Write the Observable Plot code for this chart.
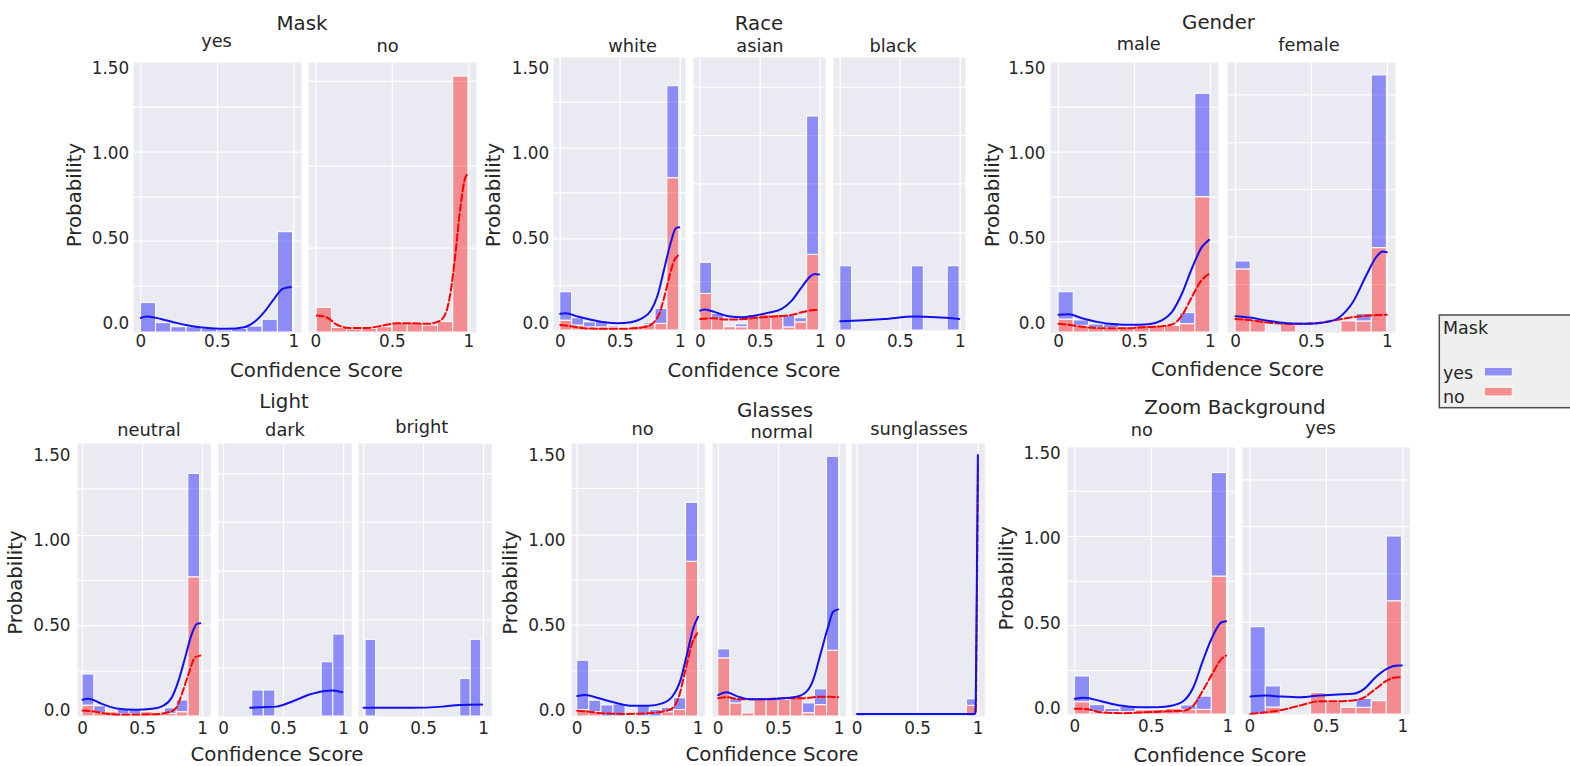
<!DOCTYPE html>
<html><head><meta charset="utf-8">
<script src="https://cdn.jsdelivr.net/npm/d3@7"></script>
<script src="https://cdn.jsdelivr.net/npm/@observablehq/plot@0.6"></script>
<style>
html,body{margin:0;padding:0;background:#fff;}
#root{position:relative;width:1570px;height:766px;overflow:hidden;font-family:"DejaVu Sans",sans-serif;color:#262626;background:#fff;}
</style></head><body><div id="root"></div>
<script>
// ---------------- categories & labels ----------------
const groupTitles = ["Mask", "Race", "Gender", "Light", "Glasses", "Zoom Background"];
const maskLevels = ["yes", "no"];
const raceLevels = ["white", "asian", "black"];
const genderLevels = ["male", "female"];
const lightLevels = ["neutral", "dark", "bright"];
const glassesLevels = ["no", "normal", "sunglasses"];
const zoomLevels = ["no", "yes"];
const legendTitle = "Mask";
const legendLevels = ["yes", "no"];
const xAxisLabel = "Confidence Score";
const yAxisLabel = "Probability";
const xTickValues = [0, 0.5, 1];
const xTickLabels = ["0", "0.5", "1"];
const yTickValues = [0, 0.5, 1, 1.5];
const yTickLabels = ["0.0", "0.50", "1.00", "1.50"];

// ---------------- data (bar tops: red = "no", blue = "yes", stacked) ----------------
// Mask = yes
const mYesBins = [0, 0.995];
const mYesYes = [0.123, 0.005, -0.019, -0.019, -0.028, -0.038, -0.028, -0.015, 0.025, 0.54];
const mYesNo = null;
const mYesKdeYes = [[0,0.036],[0.044,0.044],[0.131,0.03],[0.24,0.005],[0.349,-0.015],[0.458,-0.025],[0.566,-0.028],[0.675,-0.019],[0.74,0.011],[0.806,0.07],[0.871,0.148],[0.926,0.207],[0.98,0.217]];
const mYesKdeNo = null;
const mYesGrid = [0.222, 0.487, 0.746, 1.011, 1.275];
// Mask = no
const mNoBins = [0.006, 0.997];
const mNoYes = null;
const mNoNo = [0.095, -0.023, -0.032, -0.029, -0.019, 0.005, 0.005, -0.009, 0.011, 1.455];
const mNoKdeYes = null;
const mNoKdeNo = [[0.006,0.05],[0.07,0.04],[0.135,-0.003],[0.22,-0.023],[0.33,-0.023],[0.44,-0.009],[0.527,0.005],[0.637,0.005],[0.725,0.001],[0.791,0.011],[0.835,0.04],[0.879,0.177],[0.912,0.413],[0.945,0.687],[0.978,0.864],[0.997,0.883]];
const mNoGrid = [0.446, 0.928, 1.427];
// Race = white
const rWhiteBins = [0, 0.992];
const rWhiteYes = [0.187, 0.034, 0.01, 0.018, -0.01, -0.02, -0.025, 0.005, 0.089, 1.399];
const rWhiteNo = [0.02, -0.009, -0.02, -0.02, -0.02, -0.025, -0.015, -0.005, 0.001, 0.858];
const rWhiteKdeYes = [[0,0.06],[0.047,0.064],[0.145,0.044],[0.256,0.025],[0.367,0.011],[0.478,0.005],[0.589,0.011],[0.673,0.03],[0.756,0.079],[0.811,0.168],[0.867,0.325],[0.922,0.481],[0.964,0.564],[0.992,0.569]];
const rWhiteKdeNo = [[0,-0.005],[0.089,-0.013],[0.2,-0.025],[0.339,-0.028],[0.478,-0.028],[0.617,-0.025],[0.728,-0.013],[0.783,0.011],[0.825,0.06],[0.867,0.158],[0.908,0.275],[0.95,0.374],[0.992,0.407]];
const rWhiteGrid = [0.226, 0.501, 0.772, 1.034, 1.305];
// Race = asian
const rAsianBins = [0, 0.99];
const rAsianYes = [0.36, 0.06, null, -0.002, null, null, null, 0.05, 0.034, 1.221];
const rAsianNo = [0.177, 0.03, -0.019, -0.019, 0.054, 0.054, 0.054, -0.02, 0.01, 0.407];
const rAsianKdeYes = [[0,0.079],[0.04,0.085],[0.124,0.07],[0.235,0.046],[0.346,0.04],[0.457,0.05],[0.568,0.066],[0.679,0.089],[0.763,0.138],[0.846,0.217],[0.915,0.279],[0.957,0.295],[0.99,0.291]];
const rAsianKdeNo = [[0,0.03],[0.096,0.034],[0.235,0.026],[0.374,0.03],[0.513,0.04],[0.651,0.046],[0.763,0.054],[0.874,0.074],[0.957,0.083],[0.99,0.081]];
const rAsianGrid = [0.25, 0.536, 0.825, 1.109, 1.393];
// Race = black
const rBlackBins = [0, 0.995];
const rBlackYes = [0.34, null, null, null, null, null, 0.34, null, null, 0.34];
const rBlackNo = null;
const rBlackKdeYes = [[0,0.017],[0.2,0.023],[0.367,0.03],[0.617,0.044],[0.8,0.04],[0.992,0.03]];
const rBlackKdeNo = null;
const rBlackGrid = [0.25, 0.536, 0.825, 1.109, 1.393];
// Gender = male
const gMaleBins = [0, 1.0];
const gMaleYes = [0.187, 0.021, -0.003, 0.007, -0.01, null, null, -0.005, 0.064, 1.354];
const gMaleNo = [0.026, -0.011, -0.025, -0.025, -0.019, -0.01, -0.01, -0.01, -0.001, 0.746];
const gMaleKdeYes = [[0,0.054],[0.066,0.058],[0.154,0.034],[0.263,0.011],[0.373,-0.001],[0.483,-0.005],[0.592,-0.001],[0.68,0.021],[0.746,0.07],[0.812,0.178],[0.877,0.325],[0.943,0.452],[0.991,0.495]];
const gMaleKdeNo = [[0,0.001],[0.066,-0.005],[0.176,-0.019],[0.307,-0.025],[0.439,-0.025],[0.57,-0.019],[0.68,-0.013],[0.757,0.001],[0.812,0.05],[0.877,0.158],[0.932,0.246],[0.991,0.295]];
const gMaleGrid = [0.222, 0.485, 0.746, 1.011, 1.275];
// Gender = female
const gFemaleBins = [0, 0.996];
const gFemaleYes = [0.368, null, null, null, null, null, null, null, 0.06, 1.462];
const gFemaleNo = [0.321, 0.021, null, 0.005, null, null, null, 0.015, 0.015, 0.446];
const gFemaleKdeYes = [[0,0.046],[0.092,0.038],[0.2,0.021],[0.333,0.005],[0.487,0.001],[0.597,0.011],[0.684,0.04],[0.772,0.128],[0.86,0.285],[0.926,0.393],[0.97,0.426],[0.996,0.422]];
const gFemaleKdeNo = [[0,0.03],[0.114,0.021],[0.246,0.005],[0.399,0.001],[0.553,0.007],[0.662,0.023],[0.772,0.04],[0.882,0.05],[0.996,0.054]];
const gFemaleGrid = [0.231, 0.511, 0.791, 1.066, 1.348];
// Light = neutral
const lNeutralBins = [0, 0.98];
const lNeutralYes = [0.215, 0.028, null, 0.007, 0.007, null, null, 0.016, 0.062, 1.395];
const lNeutralNo = [0.032, -0.012, -0.007, -0.02, -0.02, -0.007, -0.017, -0.017, -0.007, 0.787];
const lNeutralKdeYes = [[0,0.066],[0.05,0.072],[0.161,0.042],[0.3,0.013],[0.439,0.007],[0.578,0.013],[0.675,0.032],[0.745,0.081],[0.8,0.179],[0.856,0.317],[0.911,0.454],[0.953,0.513],[0.981,0.517]];
const lNeutralKdeNo = [[0,0.003],[0.078,-0.001],[0.217,-0.017],[0.356,-0.02],[0.495,-0.02],[0.634,-0.017],[0.745,-0.001],[0.786,0.023],[0.828,0.101],[0.884,0.219],[0.939,0.317],[0.981,0.326]];
const lNeutralGrid = [0.234, 0.503, 0.768, 1.032, 1.307];
// Light = dark
const lDarkBins = [0.239, 1.011];
const lDarkYes = [0.121, 0.121, null, null, null, null, 0.287, 0.45];
const lDarkNo = null;
const lDarkKdeYes = [[0.222,0.019],[0.328,0.023],[0.439,0.026],[0.578,0.058],[0.717,0.097],[0.828,0.117],[0.911,0.121],[0.989,0.111]];
const lDarkKdeNo = null;
const lDarkGrid = [0.252, 0.537, 0.823, 1.111, 1.395];
// Light = bright
const lBrightBins = [0.017, 0.981];
const lBrightYes = [0.419, null, null, null, null, null, null, null, null, 0.189, 0.419];
const lBrightNo = null;
const lBrightKdeYes = [[0,0.019],[0.383,0.019],[0.661,0.026],[0.8,0.036],[0.989,0.038]];
const lBrightKdeNo = null;
const lBrightGrid = [0.252, 0.537, 0.823, 1.111, 1.395];
// Glasses = no
const gsNoBins = [0, 1.0];
const gsNoYes = [0.293, 0.058, 0.03, 0.036, null, 0.026, 0.003, 0.016, 0.072, 1.222];
const gsNoNo = [0.003, -0.01, null, null, null, null, null, -0.01, 0.003, 0.875];
const gsNoKdeYes = [[0,0.085],[0.068,0.091],[0.179,0.072],[0.316,0.046],[0.454,0.028],[0.592,0.028],[0.702,0.042],[0.785,0.081],[0.854,0.179],[0.909,0.336],[0.964,0.493],[1.0,0.552]];
const gsNoKdeNo = [[0,-0.001],[0.096,-0.007],[0.234,-0.017],[0.399,-0.02],[0.565,-0.017],[0.702,-0.007],[0.785,0.013],[0.84,0.081],[0.895,0.238],[0.95,0.395],[0.991,0.454]];
const gsNoGrid = [0.234, 0.503, 0.768, 1.032, 1.307];
// Glasses = normal
const gsNormalBins = [0, 1.0];
const gsNormalYes = [0.36, 0.072, null, null, null, null, null, 0.042, 0.125, 1.493];
const gsNormalNo = [0.307, 0.042, -0.017, 0.062, 0.062, 0.062, 0.085, -0.016, 0.032, 0.352];
const gsNormalKdeYes = [[0,0.091],[0.069,0.107],[0.152,0.085],[0.262,0.066],[0.4,0.066],[0.537,0.072],[0.647,0.081],[0.73,0.111],[0.785,0.179],[0.84,0.317],[0.909,0.493],[0.95,0.581],[0.992,0.595]];
const gsNormalKdeNo = [[0,0.072],[0.069,0.078],[0.179,0.066],[0.317,0.066],[0.455,0.07],[0.592,0.072],[0.702,0.072],[0.84,0.081],[0.923,0.081],[0.992,0.078]];
const gsNormalGrid = [];
// Glasses = sunglasses
const gsSunBins = [0, 0.983];
const gsSunYes = [-0.02, null, null, null, null, null, null, null, null, null, null, null, 0.066];
const gsSunNo = [null, null, null, null, null, null, null, null, null, null, null, null, 0.028];
const gsSunKdeYes = [[0,-0.021],[0.5,-0.021],[0.97,-0.021],[0.978,-0.01],[0.985,0.4],[0.992,1.0],[0.998,1.503]];
const gsSunKdeNo = [[0,-0.021],[0.5,-0.021],[0.97,-0.021],[0.98,0.0],[0.988,0.5],[0.994,1.0],[0.999,1.45]];
const gsSunGrid = [];
// Zoom Background = no
const zNoBins = [0, 0.994];
const zNoYes = [0.19, 0.022, 0.0, 0.012, null, 0.0, 0.0, 0.02, 0.072, 1.383];
const zNoNo = [0.039, -0.02, -0.02, -0.02, -0.008, -0.006, 0.0, -0.006, -0.006, 0.776];
const zNoKdeYes = [[0,0.059],[0.062,0.065],[0.172,0.045],[0.295,0.02],[0.418,0.01],[0.541,0.01],[0.639,0.02],[0.714,0.049],[0.775,0.127],[0.837,0.283],[0.898,0.42],[0.959,0.508],[0.989,0.514]];
const zNoKdeNo = [[0,0.0],[0.062,0.0],[0.172,-0.02],[0.32,-0.025],[0.467,-0.02],[0.615,-0.014],[0.714,-0.01],[0.775,0.02],[0.837,0.108],[0.898,0.205],[0.959,0.293],[0.989,0.313]];
const zNoGrid = [0.225, 0.489, 0.748, 1.011, 1.276];
// Zoom Background = yes
const zYesBins = [0.005, 0.994];
const zYesYes = [0.479, 0.132, null, null, null, null, null, 0.059, null, 1.011];
const zYesNo = [null, 0.008, null, null, 0.093, 0.039, 0.006, 0.006, 0.045, 0.631];
const zYesKdeYes = [[0.005,0.072],[0.109,0.078],[0.207,0.072],[0.33,0.068],[0.453,0.078],[0.576,0.084],[0.674,0.088],[0.748,0.117],[0.822,0.186],[0.895,0.235],[0.969,0.254],[0.994,0.254]];
const zYesKdeNo = [[0.005,-0.029],[0.109,-0.02],[0.207,-0.006],[0.33,0.02],[0.453,0.045],[0.576,0.045],[0.674,0.049],[0.748,0.068],[0.822,0.117],[0.895,0.166],[0.969,0.186],[0.994,0.186]];
const zYesGrid = [0.229, 0.508, 0.792, 1.069, 1.343];

// table built from the arrays above
const DATA = {
  mYes: {bins: mYesBins, yes: mYesYes, no: mYesNo, kdeYes: mYesKdeYes, kdeNo: mYesKdeNo, grid: mYesGrid},
  mNo: {bins: mNoBins, yes: mNoYes, no: mNoNo, kdeYes: mNoKdeYes, kdeNo: mNoKdeNo, grid: mNoGrid},
  rWhite: {bins: rWhiteBins, yes: rWhiteYes, no: rWhiteNo, kdeYes: rWhiteKdeYes, kdeNo: rWhiteKdeNo, grid: rWhiteGrid},
  rAsian: {bins: rAsianBins, yes: rAsianYes, no: rAsianNo, kdeYes: rAsianKdeYes, kdeNo: rAsianKdeNo, grid: rAsianGrid},
  rBlack: {bins: rBlackBins, yes: rBlackYes, no: rBlackNo, kdeYes: rBlackKdeYes, kdeNo: rBlackKdeNo, grid: rBlackGrid},
  gMale: {bins: gMaleBins, yes: gMaleYes, no: gMaleNo, kdeYes: gMaleKdeYes, kdeNo: gMaleKdeNo, grid: gMaleGrid},
  gFemale: {bins: gFemaleBins, yes: gFemaleYes, no: gFemaleNo, kdeYes: gFemaleKdeYes, kdeNo: gFemaleKdeNo, grid: gFemaleGrid},
  lNeutral: {bins: lNeutralBins, yes: lNeutralYes, no: lNeutralNo, kdeYes: lNeutralKdeYes, kdeNo: lNeutralKdeNo, grid: lNeutralGrid},
  lDark: {bins: lDarkBins, yes: lDarkYes, no: lDarkNo, kdeYes: lDarkKdeYes, kdeNo: lDarkKdeNo, grid: lDarkGrid},
  lBright: {bins: lBrightBins, yes: lBrightYes, no: lBrightNo, kdeYes: lBrightKdeYes, kdeNo: lBrightKdeNo, grid: lBrightGrid},
  gsNo: {bins: gsNoBins, yes: gsNoYes, no: gsNoNo, kdeYes: gsNoKdeYes, kdeNo: gsNoKdeNo, grid: gsNoGrid},
  gsNormal: {bins: gsNormalBins, yes: gsNormalYes, no: gsNormalNo, kdeYes: gsNormalKdeYes, kdeNo: gsNormalKdeNo, grid: gsNormalGrid},
  gsSun: {bins: gsSunBins, yes: gsSunYes, no: gsSunNo, kdeYes: gsSunKdeYes, kdeNo: gsSunKdeNo, grid: gsSunGrid},
  zNo: {bins: zNoBins, yes: zNoYes, no: zNoNo, kdeYes: zNoKdeYes, kdeNo: zNoKdeNo, grid: zNoGrid},
  zYes: {bins: zYesBins, yes: zYesYes, no: zYesNo, kdeYes: zYesKdeYes, kdeNo: zYesKdeNo, grid: zYesGrid}
};

// ---------------- layout ----------------
const LAYOUT = [
  {title: groupTitles[0], levels: maskLevels, keys: ["mYes","mNo"], tx: 302, ty: 30, ylab: [80.5,195], xlab: [316.5,376.5],
   top: 62, bottom: 332, ydom: [-0.05,1.538], xdom: [-0.048,1.05], xPad: 3, yPad: 4.4,
   lefts: [133, 308.3], width: 168, lab: [[216.5,46.5],[387.5,51.5]]},
  {title: groupTitles[1], levels: raceLevels, keys: ["rWhite","rAsian","rBlack"], tx: 759, ty: 30, ylab: [500.3,195], xlab: [754,376.5],
   top: 57, bottom: 330, ydom: [-0.038,1.568], xdom: [-0.056,1.044], xPad: 5, yPad: 4.3,
   lefts: [552.6, 693.3, 832.7], width: 132, lab: [[632.5,51.5],[760,51.5],[893,51.5]]},
  {title: groupTitles[2], levels: genderLevels, keys: ["gMale","gFemale"], tx: 1218.5, ty: 28.5, ylab: [998.6,195], xlab: [1237.5,375.5],
   top: 62, bottom: 332, ydom: [-0.05,1.538], xdom: [-0.053,1.053], xPad: 3, yPad: 5,
   lefts: [1050, 1226.7], width: 168, lab: [[1138.7,50],[1309,51]]},
  {title: groupTitles[3], levels: lightLevels, keys: ["lNeutral","lDark","lBright"], tx: 284, ty: 407.5, ylab: [22,582.5], xlab: [277,761],
   top: 443, bottom: 716, ydom: [-0.032,1.574], xdom: [-0.042,1.069], xPad: 5.7, yPad: 7,
   lefts: [76.7, 217.7, 357.7], width: 133.3, lab: [[149,436],[285,436],[421.7,432.5]]},
  {title: groupTitles[4], levels: glassesLevels, keys: ["gsNo","gsNormal","gsSun"], tx: 775, ty: 416.5, ylab: [517,582.5], xlab: [772,761],
   top: 443, bottom: 716, ydom: [-0.035,1.571], xdom: [-0.047,1.055], xPad: 6, yPad: 6,
   lefts: [571, 711.5, 851], width: 133.3, lab: [[642.5,435],[781.7,438],[919,434.5]]},
  {title: groupTitles[5], levels: zoomLevels, keys: ["zNo","zYes"], tx: 1235, ty: 414, ylab: [1013,578.3], xlab: [1220,761.5],
   top: 447, bottom: 714, ydom: [-0.033,1.533], xdom: [-0.048,1.047], xPad: 6, yPad: 6.7,
   lefts: [1066.7, 1242], width: 167.5, lab: [[1141.8,436],[1320.5,433.5]]}
];

const BG = "#eaeaf2";
const TEXT = "#262626";
const root = document.getElementById("root");

function stackBars(bins, yes, no, base) {
  const n = (yes || no).length;
  const w = (bins[1] - bins[0]) / n;
  const red = [], blue = [];
  for (let i = 0; i < n; i++) {
    const x1 = bins[0] + i * w, x2 = x1 + w;
    const r = no ? no[i] : null, b = yes ? yes[i] : null;
    const hasR = r != null && r > base;
    if (hasR) red.push({x1, x2, y1: base, y2: r});
    const b0 = hasR ? r : base;
    if (b != null && b > b0) blue.push({x1, x2, y1: b0, y2: b});
  }
  return {red, blue};
}

function makePanel(g, key, left, first) {
  const d = DATA[key];
  const base = g.ydom[0];
  const {red, blue} = stackBars(d.bins, d.yes, d.no, base);
  const ml = first ? 60 : 4, mr = 14, mt = 4, mb = 32;
  const h = g.bottom - g.top;
  const marks = [
    Plot.frame({fill: BG, stroke: "none"}),
    Plot.ruleY(d.grid, {stroke: "white", strokeWidth: 1.2}),
    Plot.ruleX(xTickValues, {stroke: "white", strokeWidth: 1.2}),
    Plot.rect(red, {x1: "x1", x2: "x2", y1: "y1", y2: "y2", fill: "red", fillOpacity: 0.4, stroke: "white", strokeWidth: 1}),
    Plot.rect(blue, {x1: "x1", x2: "x2", y1: "y1", y2: "y2", fill: "blue", fillOpacity: 0.4, stroke: "white", strokeWidth: 1})
  ];
  if (d.kdeNo) marks.push(Plot.line(d.kdeNo, {x: p => p[0], y: p => p[1], stroke: "red", strokeWidth: 2, strokeDasharray: "7,3", curve: "monotone-x"}));
  if (d.kdeYes) marks.push(Plot.line(d.kdeYes, {x: p => p[0], y: p => p[1], stroke: "#1010f5", strokeWidth: 2, curve: "monotone-x"}));
  marks.push(Plot.axisX(xTickValues, {tickSize: 0, tickPadding: g.xPad, label: null,
    tickFormat: v => xTickLabels[xTickValues.indexOf(v)]}));
  if (first) marks.push(Plot.axisY(yTickValues, {tickSize: 0, tickPadding: g.yPad, label: null,
    tickFormat: v => yTickLabels[yTickValues.indexOf(v)]}));
  const svg = Plot.plot({
    width: g.width + ml + mr, height: h + mt + mb,
    marginLeft: ml, marginRight: mr, marginTop: mt, marginBottom: mb,
    x: {domain: g.xdom, axis: null},
    y: {domain: g.ydom, axis: null},
    style: {fontFamily: "DejaVu Sans", fontSize: "16.8px", color: TEXT, background: "transparent", overflow: "visible"},
    marks
  });
  svg.style.position = "absolute";
  svg.style.left = (left - ml) + "px";
  svg.style.top = (g.top - mt) + "px";
  root.appendChild(svg);
}

LAYOUT.forEach(g => g.keys.forEach((k, i) => makePanel(g, k, g.lefts[i], i === 0)));

// ---------------- text overlay & legend ----------------
const ov = d3.select(root).append("svg")
  .attr("width", 1570).attr("height", 766)
  .style("position", "absolute").style("left", "0px").style("top", "0px")
  .style("pointer-events", "none")
  .attr("font-family", "DejaVu Sans").attr("fill", TEXT);

LAYOUT.forEach(g => {
  ov.append("text").attr("x", g.tx).attr("y", g.ty).attr("text-anchor", "middle").attr("font-size", 19.8).text(g.title);
  g.levels.forEach((lv, i) => {
    ov.append("text").attr("x", g.lab[i][0]).attr("y", g.lab[i][1]).attr("text-anchor", "middle").attr("font-size", 17.8).text(lv);
  });
  ov.append("text").attr("x", g.xlab[0]).attr("y", g.xlab[1]).attr("text-anchor", "middle").attr("font-size", 19.8).text(xAxisLabel);
  ov.append("text").attr("transform", `translate(${g.ylab[0]},${g.ylab[1]}) rotate(-90)`).attr("text-anchor", "middle").attr("font-size", 19.8).text(yAxisLabel);
});

// legend
const lg = ov.append("g");
lg.append("rect").attr("x", 1439.3).attr("y", 315).attr("width", 160).attr("height", 92.7)
  .attr("fill", "#efefef").attr("stroke", "#4d4d4d").attr("stroke-width", 1.5);
lg.append("text").attr("x", 1443).attr("y", 334.3).attr("font-size", 17.5).text(legendTitle);
const legendColors = ["blue", "red"];
const legendY = [379, 403.3];
const patchY = [367.3, 387.3];
legendLevels.forEach((lv, i) => {
  lg.append("text").attr("x", 1443).attr("y", legendY[i]).attr("font-size", 17.5).text(lv);
  lg.append("rect").attr("x", 1484.3).attr("y", patchY[i]).attr("width", 28).attr("height", 8.7)
    .attr("fill", legendColors[i]).attr("fill-opacity", 0.4).attr("stroke", "white").attr("stroke-width", 1);
});
</script></body></html>
